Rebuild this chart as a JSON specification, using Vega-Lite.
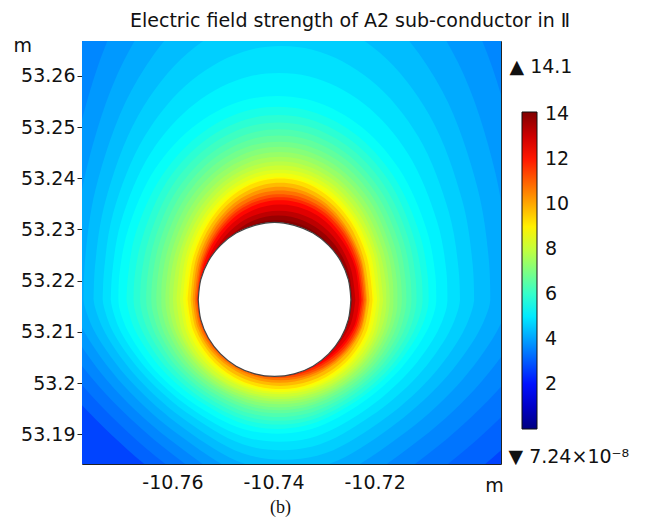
{
 "$schema": "https://vega.github.io/schema/vega-lite/v6.json",
 "width": 419, "height": 423,
 "autosize": {"type": "none"},
 "padding": {"left": 82, "top": 41, "right": 144, "bottom": 54},
 "background": "white",
 "title": {"text": "Electric field strength of A2 sub-conductor in Ⅱ", "anchor": "start", "frame": "group", "dx": 48, "offset": 5, "fontSize": 19, "fontWeight": "normal", "font": "DejaVu Sans", "color": "#111"},
 "config": {
  "view": {"stroke": "#222", "strokeWidth": 1},
  "axis": {"grid": false, "domain": false, "zindex": 1, "labelFont": "DejaVu Sans", "labelFontSize": 19, "labelColor": "#111", "tickColor": "#222", "titleFont": "DejaVu Sans", "titleFontWeight": "normal", "titleColor": "#111", "titleFontSize": 19, "labelFlush": false, "labelOverlap": false}
 },
 "datasets": {
  "bg": [{"x": -10.79, "x2": -10.68, "y": 53.17, "y2": 53.28, "e": 2.7}],
  "contours": [
   {"e":3.125,"x":-10.6713,"y":53.2163,"y2":53.2163},{"e":3.125,"x":-10.6717,"y":53.2329,"y2":53.2148},{"e":3.125,"x":-10.6749,"y":53.2629,"y2":53.209},{"e":3.125,"x":-10.6855,"y":53.3038,"y2":53.196},{"e":3.125,"x":-10.7016,"y":53.3342,"y2":53.1814},{"e":3.125,"x":-10.7213,"y":53.3504,"y2":53.1683},{"e":3.125,"x":-10.7424,"y":53.3504,"y2":53.1683},{"e":3.125,"x":-10.7621,"y":53.3342,"y2":53.1814},{"e":3.125,"x":-10.7782,"y":53.3038,"y2":53.196},{"e":3.125,"x":-10.7888,"y":53.2629,"y2":53.209},{"e":3.125,"x":-10.792,"y":53.2329,"y2":53.2148},{"e":3.125,"x":-10.7924,"y":53.2163,"y2":53.2163},
   {"e":3.375,"x":-10.6783,"y":53.2163,"y2":53.2163},{"e":3.375,"x":-10.6787,"y":53.2302,"y2":53.2148},{"e":3.375,"x":-10.6817,"y":53.2554,"y2":53.2092},{"e":3.375,"x":-10.6912,"y":53.2897,"y2":53.1972},{"e":3.375,"x":-10.7059,"y":53.3152,"y2":53.1839},{"e":3.375,"x":-10.7239,"y":53.3287,"y2":53.1725},{"e":3.375,"x":-10.743,"y":53.3287,"y2":53.1725},{"e":3.375,"x":-10.761,"y":53.3152,"y2":53.1839},{"e":3.375,"x":-10.7757,"y":53.2897,"y2":53.1972},{"e":3.375,"x":-10.7852,"y":53.2554,"y2":53.2092},{"e":3.375,"x":-10.7881,"y":53.2302,"y2":53.2148},{"e":3.375,"x":-10.7885,"y":53.2163,"y2":53.2163},
   {"e":3.625,"x":-10.6842,"y":53.2163,"y2":53.2163},{"e":3.625,"x":-10.6846,"y":53.2281,"y2":53.2148},{"e":3.625,"x":-10.6873,"y":53.2495,"y2":53.2093},{"e":3.625,"x":-10.6961,"y":53.2787,"y2":53.1981},{"e":3.625,"x":-10.7095,"y":53.3003,"y2":53.1861},{"e":3.625,"x":-10.726,"y":53.3119,"y2":53.1759},{"e":3.625,"x":-10.7435,"y":53.3119,"y2":53.1759},{"e":3.625,"x":-10.76,"y":53.3003,"y2":53.1861},{"e":3.625,"x":-10.7734,"y":53.2787,"y2":53.1981},{"e":3.625,"x":-10.7822,"y":53.2495,"y2":53.2093},{"e":3.625,"x":-10.7849,"y":53.2281,"y2":53.2148},{"e":3.625,"x":-10.7852,"y":53.2163,"y2":53.2163},
   {"e":3.875,"x":-10.6892,"y":53.2163,"y2":53.2163},{"e":3.875,"x":-10.6896,"y":53.2265,"y2":53.2147},{"e":3.875,"x":-10.692,"y":53.2448,"y2":53.2095},{"e":3.875,"x":-10.7001,"y":53.2699,"y2":53.1989},{"e":3.875,"x":-10.7125,"y":53.2885,"y2":53.1879},{"e":3.875,"x":-10.7277,"y":53.2984,"y2":53.1789},{"e":3.875,"x":-10.7439,"y":53.2984,"y2":53.1789},{"e":3.875,"x":-10.7591,"y":53.2885,"y2":53.1879},{"e":3.875,"x":-10.7715,"y":53.2699,"y2":53.1989},{"e":3.875,"x":-10.7795,"y":53.2448,"y2":53.2095},{"e":3.875,"x":-10.782,"y":53.2265,"y2":53.2147},{"e":3.875,"x":-10.7824,"y":53.2163,"y2":53.2163},
   {"e":4.125,"x":-10.6935,"y":53.2163,"y2":53.2163},{"e":4.125,"x":-10.6938,"y":53.2251,"y2":53.2147},{"e":4.125,"x":-10.6961,"y":53.241,"y2":53.2096},{"e":4.125,"x":-10.7036,"y":53.2628,"y2":53.1996},{"e":4.125,"x":-10.7151,"y":53.2789,"y2":53.1895},{"e":4.125,"x":-10.7291,"y":53.2875,"y2":53.1815},{"e":4.125,"x":-10.7441,"y":53.2875,"y2":53.1815},{"e":4.125,"x":-10.7582,"y":53.2789,"y2":53.1895},{"e":4.125,"x":-10.7697,"y":53.2628,"y2":53.1996},{"e":4.125,"x":-10.7772,"y":53.241,"y2":53.2096},{"e":4.125,"x":-10.7795,"y":53.2251,"y2":53.2147},{"e":4.125,"x":-10.7798,"y":53.2163,"y2":53.2163},
   {"e":4.375,"x":-10.6971,"y":53.2163,"y2":53.2163},{"e":4.375,"x":-10.6974,"y":53.224,"y2":53.2147},{"e":4.375,"x":-10.6996,"y":53.2379,"y2":53.2097},{"e":4.375,"x":-10.7066,"y":53.257,"y2":53.2003},{"e":4.375,"x":-10.7173,"y":53.2711,"y2":53.191},{"e":4.375,"x":-10.7304,"y":53.2786,"y2":53.1838},{"e":4.375,"x":-10.7443,"y":53.2786,"y2":53.1838},{"e":4.375,"x":-10.7575,"y":53.2711,"y2":53.191},{"e":4.375,"x":-10.7682,"y":53.257,"y2":53.2003},{"e":4.375,"x":-10.7752,"y":53.2379,"y2":53.2097},{"e":4.375,"x":-10.7773,"y":53.224,"y2":53.2147},{"e":4.375,"x":-10.7776,"y":53.2163,"y2":53.2163},
   {"e":4.625,"x":-10.7003,"y":53.2163,"y2":53.2163},{"e":4.625,"x":-10.7006,"y":53.2231,"y2":53.2147},{"e":4.625,"x":-10.7026,"y":53.2354,"y2":53.2098},{"e":4.625,"x":-10.7091,"y":53.2522,"y2":53.2009},{"e":4.625,"x":-10.7191,"y":53.2646,"y2":53.1923},{"e":4.625,"x":-10.7314,"y":53.2713,"y2":53.1858},{"e":4.625,"x":-10.7445,"y":53.2713,"y2":53.1858},{"e":4.625,"x":-10.7568,"y":53.2646,"y2":53.1923},{"e":4.625,"x":-10.7668,"y":53.2522,"y2":53.2009},{"e":4.625,"x":-10.7733,"y":53.2354,"y2":53.2098},{"e":4.625,"x":-10.7753,"y":53.2231,"y2":53.2147},{"e":4.625,"x":-10.7756,"y":53.2163,"y2":53.2163},
   {"e":4.875,"x":-10.7031,"y":53.2163,"y2":53.2163},{"e":4.875,"x":-10.7034,"y":53.2223,"y2":53.2146},{"e":4.875,"x":-10.7053,"y":53.2333,"y2":53.2099},{"e":4.875,"x":-10.7114,"y":53.2482,"y2":53.2015},{"e":4.875,"x":-10.7208,"y":53.2592,"y2":53.1935},{"e":4.875,"x":-10.7323,"y":53.2651,"y2":53.1876},{"e":4.875,"x":-10.7446,"y":53.2651,"y2":53.1876},{"e":4.875,"x":-10.7561,"y":53.2592,"y2":53.1935},{"e":4.875,"x":-10.7655,"y":53.2482,"y2":53.2015},{"e":4.875,"x":-10.7717,"y":53.2333,"y2":53.2099},{"e":4.875,"x":-10.7735,"y":53.2223,"y2":53.2146},{"e":4.875,"x":-10.7738,"y":53.2163,"y2":53.2163},
   {"e":5.125,"x":-10.7056,"y":53.2163,"y2":53.2163},{"e":5.125,"x":-10.7058,"y":53.2217,"y2":53.2146},{"e":5.125,"x":-10.7076,"y":53.2314,"y2":53.21},{"e":5.125,"x":-10.7134,"y":53.2448,"y2":53.202},{"e":5.125,"x":-10.7222,"y":53.2546,"y2":53.1945},{"e":5.125,"x":-10.7331,"y":53.2599,"y2":53.1892},{"e":5.125,"x":-10.7447,"y":53.2599,"y2":53.1892},{"e":5.125,"x":-10.7555,"y":53.2546,"y2":53.1945},{"e":5.125,"x":-10.7644,"y":53.2448,"y2":53.202},{"e":5.125,"x":-10.7702,"y":53.2314,"y2":53.21},{"e":5.125,"x":-10.7719,"y":53.2217,"y2":53.2146},{"e":5.125,"x":-10.7722,"y":53.2163,"y2":53.2163},
   {"e":5.375,"x":-10.7078,"y":53.2163,"y2":53.2163},{"e":5.375,"x":-10.708,"y":53.2212,"y2":53.2146},{"e":5.375,"x":-10.7097,"y":53.2299,"y2":53.2101},{"e":5.375,"x":-10.7152,"y":53.2419,"y2":53.2024},{"e":5.375,"x":-10.7235,"y":53.2507,"y2":53.1955},{"e":5.375,"x":-10.7338,"y":53.2555,"y2":53.1907},{"e":5.375,"x":-10.7447,"y":53.2555,"y2":53.1907},{"e":5.375,"x":-10.755,"y":53.2507,"y2":53.1955},{"e":5.375,"x":-10.7634,"y":53.2419,"y2":53.2024},{"e":5.375,"x":-10.7688,"y":53.2299,"y2":53.2101},{"e":5.375,"x":-10.7705,"y":53.2212,"y2":53.2146},{"e":5.375,"x":-10.7707,"y":53.2163,"y2":53.2163},
   {"e":5.625,"x":-10.7093,"y":53.2163,"y2":53.2163},{"e":5.625,"x":-10.7095,"y":53.2209,"y2":53.2145},{"e":5.625,"x":-10.7111,"y":53.2292,"y2":53.2101},{"e":5.625,"x":-10.7163,"y":53.2405,"y2":53.2027},{"e":5.625,"x":-10.7242,"y":53.2489,"y2":53.1961},{"e":5.625,"x":-10.734,"y":53.2534,"y2":53.1916},{"e":5.625,"x":-10.7444,"y":53.2534,"y2":53.1916},{"e":5.625,"x":-10.7541,"y":53.2489,"y2":53.1961},{"e":5.625,"x":-10.7621,"y":53.2405,"y2":53.2027},{"e":5.625,"x":-10.7673,"y":53.2292,"y2":53.2101},{"e":5.625,"x":-10.7688,"y":53.2209,"y2":53.2145},{"e":5.625,"x":-10.7691,"y":53.2163,"y2":53.2163},
   {"e":5.875,"x":-10.7105,"y":53.2163,"y2":53.2163},{"e":5.875,"x":-10.7107,"y":53.2207,"y2":53.2145},{"e":5.875,"x":-10.7123,"y":53.2286,"y2":53.21},{"e":5.875,"x":-10.7172,"y":53.2395,"y2":53.2028},{"e":5.875,"x":-10.7248,"y":53.2475,"y2":53.1965},{"e":5.875,"x":-10.7341,"y":53.2518,"y2":53.1924},{"e":5.875,"x":-10.7441,"y":53.2518,"y2":53.1924},{"e":5.875,"x":-10.7534,"y":53.2475,"y2":53.1965},{"e":5.875,"x":-10.761,"y":53.2395,"y2":53.2028},{"e":5.875,"x":-10.7659,"y":53.2286,"y2":53.21},{"e":5.875,"x":-10.7675,"y":53.2207,"y2":53.2145},{"e":5.875,"x":-10.7677,"y":53.2163,"y2":53.2163},
   {"e":6.125,"x":-10.7117,"y":53.2163,"y2":53.2163},{"e":6.125,"x":-10.7119,"y":53.2205,"y2":53.2144},{"e":6.125,"x":-10.7133,"y":53.2281,"y2":53.21},{"e":6.125,"x":-10.7181,"y":53.2386,"y2":53.203},{"e":6.125,"x":-10.7254,"y":53.2463,"y2":53.197},{"e":6.125,"x":-10.7343,"y":53.2504,"y2":53.1931},{"e":6.125,"x":-10.7438,"y":53.2504,"y2":53.1931},{"e":6.125,"x":-10.7527,"y":53.2463,"y2":53.197},{"e":6.125,"x":-10.76,"y":53.2386,"y2":53.203},{"e":6.125,"x":-10.7647,"y":53.2281,"y2":53.21},{"e":6.125,"x":-10.7662,"y":53.2205,"y2":53.2144},{"e":6.125,"x":-10.7664,"y":53.2163,"y2":53.2163},
   {"e":6.375,"x":-10.7127,"y":53.2163,"y2":53.2163},{"e":6.375,"x":-10.7129,"y":53.2204,"y2":53.2143},{"e":6.375,"x":-10.7143,"y":53.2277,"y2":53.21},{"e":6.375,"x":-10.7189,"y":53.2377,"y2":53.2031},{"e":6.375,"x":-10.7259,"y":53.2451,"y2":53.1974},{"e":6.375,"x":-10.7344,"y":53.2491,"y2":53.1938},{"e":6.375,"x":-10.7435,"y":53.2491,"y2":53.1938},{"e":6.375,"x":-10.7521,"y":53.2451,"y2":53.1974},{"e":6.375,"x":-10.7591,"y":53.2377,"y2":53.2031},{"e":6.375,"x":-10.7636,"y":53.2277,"y2":53.21},{"e":6.375,"x":-10.765,"y":53.2204,"y2":53.2143},{"e":6.375,"x":-10.7652,"y":53.2163,"y2":53.2163},
   {"e":6.625,"x":-10.7137,"y":53.2163,"y2":53.2163},{"e":6.625,"x":-10.7139,"y":53.2202,"y2":53.2143},{"e":6.625,"x":-10.7152,"y":53.2273,"y2":53.2099},{"e":6.625,"x":-10.7196,"y":53.2369,"y2":53.2033},{"e":6.625,"x":-10.7263,"y":53.2441,"y2":53.1978},{"e":6.625,"x":-10.7346,"y":53.2479,"y2":53.1945},{"e":6.625,"x":-10.7433,"y":53.2479,"y2":53.1945},{"e":6.625,"x":-10.7515,"y":53.2441,"y2":53.1978},{"e":6.625,"x":-10.7583,"y":53.2369,"y2":53.2033},{"e":6.625,"x":-10.7626,"y":53.2273,"y2":53.2099},{"e":6.625,"x":-10.764,"y":53.2202,"y2":53.2143},{"e":6.625,"x":-10.7642,"y":53.2163,"y2":53.2163},
   {"e":6.875,"x":-10.7146,"y":53.2163,"y2":53.2163},{"e":6.875,"x":-10.7148,"y":53.2201,"y2":53.2142},{"e":6.875,"x":-10.7161,"y":53.2269,"y2":53.2099},{"e":6.875,"x":-10.7203,"y":53.2362,"y2":53.2034},{"e":6.875,"x":-10.7268,"y":53.2431,"y2":53.1982},{"e":6.875,"x":-10.7347,"y":53.2467,"y2":53.1951},{"e":6.875,"x":-10.7431,"y":53.2467,"y2":53.1951},{"e":6.875,"x":-10.751,"y":53.2431,"y2":53.1982},{"e":6.875,"x":-10.7575,"y":53.2362,"y2":53.2034},{"e":6.875,"x":-10.7617,"y":53.2269,"y2":53.2099},{"e":6.875,"x":-10.763,"y":53.2201,"y2":53.2142},{"e":6.875,"x":-10.7632,"y":53.2163,"y2":53.2163},
   {"e":7.125,"x":-10.7155,"y":53.2163,"y2":53.2163},{"e":7.125,"x":-10.7156,"y":53.2199,"y2":53.2142},{"e":7.125,"x":-10.7169,"y":53.2265,"y2":53.2099},{"e":7.125,"x":-10.7209,"y":53.2355,"y2":53.2036},{"e":7.125,"x":-10.7272,"y":53.2421,"y2":53.1986},{"e":7.125,"x":-10.7348,"y":53.2457,"y2":53.1956},{"e":7.125,"x":-10.7429,"y":53.2457,"y2":53.1956},{"e":7.125,"x":-10.7505,"y":53.2421,"y2":53.1986},{"e":7.125,"x":-10.7568,"y":53.2355,"y2":53.2036},{"e":7.125,"x":-10.7608,"y":53.2265,"y2":53.2099},{"e":7.125,"x":-10.7621,"y":53.2199,"y2":53.2142},{"e":7.125,"x":-10.7622,"y":53.2163,"y2":53.2163},
   {"e":7.375,"x":-10.7163,"y":53.2163,"y2":53.2163},{"e":7.375,"x":-10.7164,"y":53.2198,"y2":53.2141},{"e":7.375,"x":-10.7176,"y":53.2262,"y2":53.2099},{"e":7.375,"x":-10.7215,"y":53.2348,"y2":53.2037},{"e":7.375,"x":-10.7275,"y":53.2413,"y2":53.1989},{"e":7.375,"x":-10.7349,"y":53.2447,"y2":53.1962},{"e":7.375,"x":-10.7427,"y":53.2447,"y2":53.1962},{"e":7.375,"x":-10.7501,"y":53.2413,"y2":53.1989},{"e":7.375,"x":-10.7561,"y":53.2348,"y2":53.2037},{"e":7.375,"x":-10.76,"y":53.2262,"y2":53.2099},{"e":7.375,"x":-10.7612,"y":53.2198,"y2":53.2141},{"e":7.375,"x":-10.7614,"y":53.2163,"y2":53.2163},
   {"e":7.625,"x":-10.717,"y":53.2163,"y2":53.2163},{"e":7.625,"x":-10.7172,"y":53.2197,"y2":53.2141},{"e":7.625,"x":-10.7183,"y":53.2258,"y2":53.2098},{"e":7.625,"x":-10.7221,"y":53.2342,"y2":53.2039},{"e":7.625,"x":-10.7279,"y":53.2404,"y2":53.1992},{"e":7.625,"x":-10.735,"y":53.2438,"y2":53.1967},{"e":7.625,"x":-10.7426,"y":53.2438,"y2":53.1967},{"e":7.625,"x":-10.7497,"y":53.2404,"y2":53.1992},{"e":7.625,"x":-10.7555,"y":53.2342,"y2":53.2039},{"e":7.625,"x":-10.7593,"y":53.2258,"y2":53.2098},{"e":7.625,"x":-10.7605,"y":53.2197,"y2":53.2141},{"e":7.625,"x":-10.7606,"y":53.2163,"y2":53.2163},
   {"e":7.875,"x":-10.7177,"y":53.2163,"y2":53.2163},{"e":7.875,"x":-10.7178,"y":53.2196,"y2":53.214},{"e":7.875,"x":-10.719,"y":53.2255,"y2":53.2098},{"e":7.875,"x":-10.7226,"y":53.2337,"y2":53.204},{"e":7.875,"x":-10.7282,"y":53.2397,"y2":53.1996},{"e":7.875,"x":-10.7351,"y":53.2429,"y2":53.1972},{"e":7.875,"x":-10.7424,"y":53.2429,"y2":53.1972},{"e":7.875,"x":-10.7493,"y":53.2397,"y2":53.1996},{"e":7.875,"x":-10.7549,"y":53.2337,"y2":53.204},{"e":7.875,"x":-10.7586,"y":53.2255,"y2":53.2098},{"e":7.875,"x":-10.7597,"y":53.2196,"y2":53.214},{"e":7.875,"x":-10.7599,"y":53.2163,"y2":53.2163},
   {"e":8.125,"x":-10.7183,"y":53.2163,"y2":53.2163},{"e":8.125,"x":-10.7196,"y":53.2253,"y2":53.2098},{"e":8.125,"x":-10.7231,"y":53.2331,"y2":53.2041},{"e":8.125,"x":-10.7286,"y":53.239,"y2":53.1998},{"e":8.125,"x":-10.7352,"y":53.2421,"y2":53.1976},{"e":8.125,"x":-10.7423,"y":53.2421,"y2":53.1976},{"e":8.125,"x":-10.749,"y":53.239,"y2":53.1998},{"e":8.125,"x":-10.7544,"y":53.2331,"y2":53.2041},{"e":8.125,"x":-10.758,"y":53.2253,"y2":53.2098},{"e":8.125,"x":-10.7592,"y":53.2163,"y2":53.2163},
   {"e":8.375,"x":-10.719,"y":53.2163,"y2":53.2163},{"e":8.375,"x":-10.7201,"y":53.225,"y2":53.21},{"e":8.375,"x":-10.7236,"y":53.2326,"y2":53.2044},{"e":8.375,"x":-10.7288,"y":53.2383,"y2":53.2003},{"e":8.375,"x":-10.7353,"y":53.2413,"y2":53.1981},{"e":8.375,"x":-10.7422,"y":53.2413,"y2":53.1981},{"e":8.375,"x":-10.7486,"y":53.2383,"y2":53.2003},{"e":8.375,"x":-10.7539,"y":53.2326,"y2":53.2044},{"e":8.375,"x":-10.7573,"y":53.225,"y2":53.21},{"e":8.375,"x":-10.7585,"y":53.2163,"y2":53.2163},
   {"e":8.625,"x":-10.7195,"y":53.2163,"y2":53.2163},{"e":8.625,"x":-10.7207,"y":53.2247,"y2":53.2101},{"e":8.625,"x":-10.724,"y":53.2322,"y2":53.2047},{"e":8.625,"x":-10.7291,"y":53.2377,"y2":53.2006},{"e":8.625,"x":-10.7354,"y":53.2406,"y2":53.1985},{"e":8.625,"x":-10.7421,"y":53.2406,"y2":53.1985},{"e":8.625,"x":-10.7483,"y":53.2377,"y2":53.2006},{"e":8.625,"x":-10.7534,"y":53.2322,"y2":53.2047},{"e":8.625,"x":-10.7568,"y":53.2247,"y2":53.2101},{"e":8.625,"x":-10.7579,"y":53.2163,"y2":53.2163},
   {"e":8.875,"x":-10.7201,"y":53.2163,"y2":53.2163},{"e":8.875,"x":-10.7212,"y":53.2245,"y2":53.2103},{"e":8.875,"x":-10.7244,"y":53.2317,"y2":53.2049},{"e":8.875,"x":-10.7294,"y":53.2371,"y2":53.201},{"e":8.875,"x":-10.7355,"y":53.2399,"y2":53.1989},{"e":8.875,"x":-10.742,"y":53.2399,"y2":53.1989},{"e":8.875,"x":-10.748,"y":53.2371,"y2":53.201},{"e":8.875,"x":-10.753,"y":53.2317,"y2":53.2049},{"e":8.875,"x":-10.7562,"y":53.2245,"y2":53.2103},{"e":8.875,"x":-10.7574,"y":53.2163,"y2":53.2163},
   {"e":9.25,"x":-10.7204,"y":53.2163,"y2":53.2163},{"e":9.25,"x":-10.7215,"y":53.2244,"y2":53.2103},{"e":9.25,"x":-10.7247,"y":53.2315,"y2":53.2051},{"e":9.25,"x":-10.7296,"y":53.2368,"y2":53.2012},{"e":9.25,"x":-10.7355,"y":53.2396,"y2":53.1991},{"e":9.25,"x":-10.7419,"y":53.2396,"y2":53.1991},{"e":9.25,"x":-10.7479,"y":53.2368,"y2":53.2012},{"e":9.25,"x":-10.7527,"y":53.2315,"y2":53.2051},{"e":9.25,"x":-10.7559,"y":53.2244,"y2":53.2103},{"e":9.25,"x":-10.757,"y":53.2163,"y2":53.2163},
   {"e":9.75,"x":-10.721,"y":53.2163,"y2":53.2163},{"e":9.75,"x":-10.7221,"y":53.2241,"y2":53.2106},{"e":9.75,"x":-10.7251,"y":53.231,"y2":53.2055},{"e":9.75,"x":-10.7299,"y":53.2361,"y2":53.2017},{"e":9.75,"x":-10.7356,"y":53.2388,"y2":53.1997},{"e":9.75,"x":-10.7418,"y":53.2388,"y2":53.1997},{"e":9.75,"x":-10.7476,"y":53.2361,"y2":53.2017},{"e":9.75,"x":-10.7523,"y":53.231,"y2":53.2055},{"e":9.75,"x":-10.7554,"y":53.2241,"y2":53.2106},{"e":9.75,"x":-10.7564,"y":53.2163,"y2":53.2163},
   {"e":10.25,"x":-10.7215,"y":53.2163,"y2":53.2163},{"e":10.25,"x":-10.7225,"y":53.2238,"y2":53.2108},{"e":10.25,"x":-10.7255,"y":53.2304,"y2":53.2059},{"e":10.25,"x":-10.7301,"y":53.2354,"y2":53.2023},{"e":10.25,"x":-10.7358,"y":53.238,"y2":53.2003},{"e":10.25,"x":-10.7418,"y":53.238,"y2":53.2003},{"e":10.25,"x":-10.7474,"y":53.2354,"y2":53.2023},{"e":10.25,"x":-10.752,"y":53.2304,"y2":53.2059},{"e":10.25,"x":-10.755,"y":53.2238,"y2":53.2108},{"e":10.25,"x":-10.756,"y":53.2163,"y2":53.2163},
   {"e":10.75,"x":-10.7217,"y":53.2163,"y2":53.2163},{"e":10.75,"x":-10.7227,"y":53.2236,"y2":53.2109},{"e":10.75,"x":-10.7257,"y":53.23,"y2":53.2062},{"e":10.75,"x":-10.7302,"y":53.2348,"y2":53.2027},{"e":10.75,"x":-10.7357,"y":53.2373,"y2":53.2008},{"e":10.75,"x":-10.7416,"y":53.2373,"y2":53.2008},{"e":10.75,"x":-10.7472,"y":53.2348,"y2":53.2027},{"e":10.75,"x":-10.7517,"y":53.23,"y2":53.2062},{"e":10.75,"x":-10.7546,"y":53.2236,"y2":53.2109},{"e":10.75,"x":-10.7556,"y":53.2163,"y2":53.2163},
   {"e":11.25,"x":-10.722,"y":53.2163,"y2":53.2163},{"e":11.25,"x":-10.723,"y":53.2234,"y2":53.2111},{"e":11.25,"x":-10.7259,"y":53.2296,"y2":53.2064},{"e":11.25,"x":-10.7303,"y":53.2342,"y2":53.203},{"e":11.25,"x":-10.7358,"y":53.2366,"y2":53.2012},{"e":11.25,"x":-10.7416,"y":53.2366,"y2":53.2012},{"e":11.25,"x":-10.747,"y":53.2342,"y2":53.203},{"e":11.25,"x":-10.7514,"y":53.2296,"y2":53.2064},{"e":11.25,"x":-10.7543,"y":53.2234,"y2":53.2111},{"e":11.25,"x":-10.7553,"y":53.2163,"y2":53.2163},
   {"e":11.75,"x":-10.7223,"y":53.2163,"y2":53.2163},{"e":11.75,"x":-10.7233,"y":53.2232,"y2":53.2112},{"e":11.75,"x":-10.7261,"y":53.2292,"y2":53.2067},{"e":11.75,"x":-10.7305,"y":53.2337,"y2":53.2034},{"e":11.75,"x":-10.7358,"y":53.236,"y2":53.2016},{"e":11.75,"x":-10.7415,"y":53.236,"y2":53.2016},{"e":11.75,"x":-10.7469,"y":53.2337,"y2":53.2034},{"e":11.75,"x":-10.7512,"y":53.2292,"y2":53.2067},{"e":11.75,"x":-10.7541,"y":53.2232,"y2":53.2112},{"e":11.75,"x":-10.7551,"y":53.2163,"y2":53.2163},
   {"e":12.25,"x":-10.7226,"y":53.2163,"y2":53.2163},{"e":12.25,"x":-10.7236,"y":53.2229,"y2":53.2114},{"e":12.25,"x":-10.7264,"y":53.2287,"y2":53.207},{"e":12.25,"x":-10.7306,"y":53.2331,"y2":53.2038},{"e":12.25,"x":-10.7359,"y":53.2354,"y2":53.2021},{"e":12.25,"x":-10.7415,"y":53.2354,"y2":53.2021},{"e":12.25,"x":-10.7468,"y":53.2331,"y2":53.2038},{"e":12.25,"x":-10.7511,"y":53.2287,"y2":53.207},{"e":12.25,"x":-10.7539,"y":53.2229,"y2":53.2114},{"e":12.25,"x":-10.7549,"y":53.2163,"y2":53.2163},
   {"e":12.75,"x":-10.723,"y":53.2163,"y2":53.2163},{"e":12.75,"x":-10.7239,"y":53.2227,"y2":53.2115},{"e":12.75,"x":-10.7267,"y":53.2282,"y2":53.2073},{"e":12.75,"x":-10.7308,"y":53.2324,"y2":53.2041},{"e":12.75,"x":-10.736,"y":53.2346,"y2":53.2024},{"e":12.75,"x":-10.7414,"y":53.2346,"y2":53.2024},{"e":12.75,"x":-10.7466,"y":53.2324,"y2":53.2041},{"e":12.75,"x":-10.7508,"y":53.2282,"y2":53.2073},{"e":12.75,"x":-10.7535,"y":53.2227,"y2":53.2115},{"e":12.75,"x":-10.7545,"y":53.2163,"y2":53.2163},
   {"e":13.25,"x":-10.7238,"y":53.2163,"y2":53.2163},{"e":13.25,"x":-10.7247,"y":53.2223,"y2":53.2116},{"e":13.25,"x":-10.7273,"y":53.2275,"y2":53.2075},{"e":13.25,"x":-10.7313,"y":53.2314,"y2":53.2045},{"e":13.25,"x":-10.7363,"y":53.2334,"y2":53.2028},{"e":13.25,"x":-10.7415,"y":53.2334,"y2":53.2028},{"e":13.25,"x":-10.7465,"y":53.2314,"y2":53.2045},{"e":13.25,"x":-10.7505,"y":53.2275,"y2":53.2075},{"e":13.25,"x":-10.7531,"y":53.2223,"y2":53.2116},{"e":13.25,"x":-10.7541,"y":53.2163,"y2":53.2163},
   {"e":13.75,"x":-10.7244,"y":53.2163,"y2":53.2163},{"e":13.75,"x":-10.7252,"y":53.2219,"y2":53.2118},{"e":13.75,"x":-10.7278,"y":53.2269,"y2":53.2078},{"e":13.75,"x":-10.7317,"y":53.2305,"y2":53.2048},{"e":13.75,"x":-10.7365,"y":53.2325,"y2":53.2032},{"e":13.75,"x":-10.7416,"y":53.2325,"y2":53.2032},{"e":13.75,"x":-10.7463,"y":53.2305,"y2":53.2048},{"e":13.75,"x":-10.7502,"y":53.2269,"y2":53.2078},{"e":13.75,"x":-10.7528,"y":53.2219,"y2":53.2118},{"e":13.75,"x":-10.7537,"y":53.2163,"y2":53.2163},
   {"e":14.05,"x":-10.7252,"y":53.2163,"y2":53.2163},{"e":14.05,"x":-10.726,"y":53.2216,"y2":53.2119},{"e":14.05,"x":-10.7284,"y":53.2263,"y2":53.208},{"e":14.05,"x":-10.7322,"y":53.2298,"y2":53.2051},{"e":14.05,"x":-10.7368,"y":53.2316,"y2":53.2036},{"e":14.05,"x":-10.7417,"y":53.2316,"y2":53.2036},{"e":14.05,"x":-10.7462,"y":53.2298,"y2":53.2051},{"e":14.05,"x":-10.75,"y":53.2263,"y2":53.208},{"e":14.05,"x":-10.7524,"y":53.2216,"y2":53.2119},{"e":14.05,"x":-10.7533,"y":53.2163,"y2":53.2163}
  ],
  "conductor": [
   {"x":-10.7247,"y":53.2163,"y2":53.2163},{"x":-10.7252,"y":53.2202,"y2":53.2124},{"x":-10.7267,"y":53.2238,"y2":53.2088},{"x":-10.7291,"y":53.2269,"y2":53.2057},{"x":-10.7322,"y":53.2293,"y2":53.2033},{"x":-10.7359,"y":53.2308,"y2":53.2018},{"x":-10.7398,"y":53.2314,"y2":53.2013},{"x":-10.7437,"y":53.2308,"y2":53.2018},{"x":-10.7474,"y":53.2293,"y2":53.2033},{"x":-10.7505,"y":53.2269,"y2":53.2057},{"x":-10.7529,"y":53.2238,"y2":53.2088},{"x":-10.7544,"y":53.2202,"y2":53.2124},{"x":-10.7549,"y":53.2163,"y2":53.2163}
  ]
 },
 "layer": [
  {
   "data": {"name": "bg"},
   "mark": {"type": "rect", "clip": true},
   "encoding": {
    "x": {"field": "x", "type": "quantitative", "scale": {"domain": [-10.7779, -10.695], "nice": false, "zero": false},
          "axis": {"orient": "bottom", "values": [-10.76, -10.74, -10.72, -10.7], "tickSize": -5, "labelPadding": 14, "labelExpr": "datum.value == -10.7 ? '' : replace(datum.label, '\u2212', '-')", "title": "m", "titleX": 412, "titleY": 21, "titleAlign": "center", "titleBaseline": "middle"}},
    "x2": {"field": "x2"},
    "y": {"field": "y", "type": "quantitative", "scale": {"domain": [53.1842, 53.2668], "nice": false, "zero": false},
          "axis": {"orient": "left", "values": [53.19, 53.2, 53.21, 53.22, 53.23, 53.24, 53.25, 53.26], "format": ".4~g", "tickSize": 5, "labelPadding": 2, "title": "m", "titleAngle": 0, "titleX": -69, "titleY": 4, "titleAlign": "left", "titleBaseline": "middle"}},
    "y2": {"field": "y2"},
    "color": {"field": "e", "type": "quantitative",
              "scale": {"domain": [0, 1.7625, 5.2875, 8.8125, 12.3375, 14.1], "range": ["#000080", "#0000ff", "#00ffff", "#ffff00", "#ff0000", "#800000"], "interpolate": "rgb"},
              "legend": {"orient": "none", "legendX": 440, "legendY": 71, "direction": "vertical", "gradientLength": 317, "gradientThickness": 15, "values": [2, 4, 6, 8, 10, 12, 14], "title": null, "labelFont": "DejaVu Sans", "labelFontSize": 19, "labelColor": "#111", "labelOffset": 8, "gradientStrokeColor": "#111", "gradientStrokeWidth": 1}}
   }
  },
  {
   "data": {"name": "contours"},
   "mark": {"type": "area", "clip": true, "interpolate": "catmull-rom"},
   "encoding": {
    "x": {"field": "x", "type": "quantitative", "axis": {"orient": "top", "values": [-10.76, -10.74, -10.72, -10.7], "tickSize": -5, "labels": false, "title": null}},
    "y": {"field": "y", "type": "quantitative", "stack": null, "axis": {"orient": "right", "values": [53.19, 53.2, 53.21, 53.22, 53.23, 53.24, 53.25, 53.26], "tickSize": -5, "labels": false, "title": "▼ 7.24×10⁻⁸", "titleAngle": 0, "titleX": 7, "titleY": 415, "titleAlign": "left", "titleBaseline": "middle"}},
    "y2": {"field": "y2"},
    "color": {"field": "e", "type": "quantitative"},
    "detail": {"field": "e", "type": "quantitative"}
   }
  },
  {
   "data": {"name": "conductor"},
   "mark": {"type": "area", "clip": true, "interpolate": "catmull-rom", "fill": "white", "stroke": "#444", "strokeWidth": 1.2},
   "encoding": {
    "x": {"field": "x", "type": "quantitative", "axis": {"orient": "bottom", "ticks": false, "labels": false, "title": "(b)", "titleFont": "Liberation Serif", "titleFontSize": 18, "titleX": 198, "titleY": 43, "titleAlign": "center", "titleBaseline": "middle"}},
    "y": {"field": "y", "type": "quantitative", "stack": null, "axis": {"orient": "right", "ticks": false, "labels": false, "title": "▲ 14.1", "titleAngle": 0, "titleX": 8, "titleY": 25, "titleAlign": "left", "titleBaseline": "middle"}},
    "y2": {"field": "y2"}
   }
  }
 ],
 "resolve": {"axis": {"x": "independent", "y": "independent"}}
}
